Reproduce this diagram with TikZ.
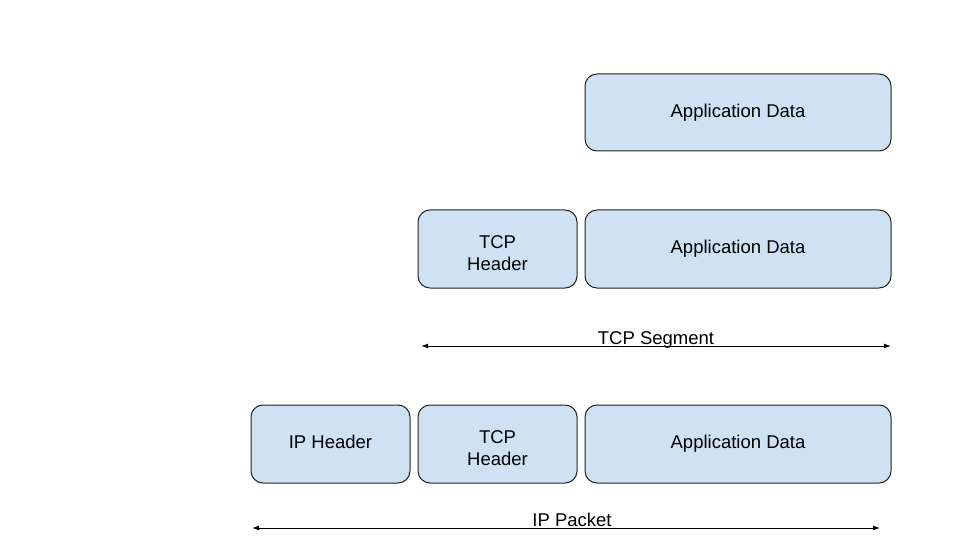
\documentclass[tikz,border=0pt]{standalone}
\usepackage{fontspec}
\setmainfont{Liberation Sans}
\usetikzlibrary{arrows.meta}
\definecolor{boxfill}{HTML}{CFE2F3}
\definecolor{boxline}{HTML}{222222}
\begin{document}
\begin{tikzpicture}[x=1pt,y=-1pt,
  pbox/.style={draw=boxline,fill=boxfill,line width=1pt,rounded corners=12pt,
    inner sep=0pt,align=center,font=\fontsize{18.5}{22}\selectfont},
  lbl/.style={font=\fontsize{18.5}{22}\selectfont,inner sep=0pt,align=center},
  span/.style={line width=1pt,{Latex[length=7pt,width=5pt]}-{Latex[length=7pt,width=5pt]}}]
\useasboundingbox (0,0) rectangle (956,548);
% row 1
\node[pbox,minimum width=306pt,minimum height=77pt] (a1) at (738,112.5) {Application Data};
% row 2
\node[pbox,minimum width=159pt,minimum height=78pt,
  label={[lbl,yshift=-4.5pt]center:{TCP\\Header}}] (t2) at (497.5,249) {};
\node[pbox,minimum width=306pt,minimum height=78pt] (a2) at (738,249) {Application Data};
% row 3
\node[pbox,minimum width=159pt,minimum height=78pt,
  label={[lbl,yshift=2pt]center:{IP Header}}] (i3) at (330.5,444) {};
\node[pbox,minimum width=159pt,minimum height=78pt,
  label={[lbl,yshift=-4.5pt]center:{TCP\\Header}}] (t3) at (497.5,444) {};
\node[pbox,minimum width=306pt,minimum height=78pt] (a3) at (738,444) {Application Data};
% arrows
\coordinate (s1) at (421,346);
\coordinate (s2) at (891,346);
\draw[span] (s1) -- (s2);
\node[lbl] (segl) at (656,340) {TCP Segment};
\coordinate (p1) at (252,528);
\coordinate (p2) at (880,528);
\draw[span] (p1) -- (p2);
\node[lbl] (pktl) at (572,520) {IP Packet};
\end{tikzpicture}
\end{document}
